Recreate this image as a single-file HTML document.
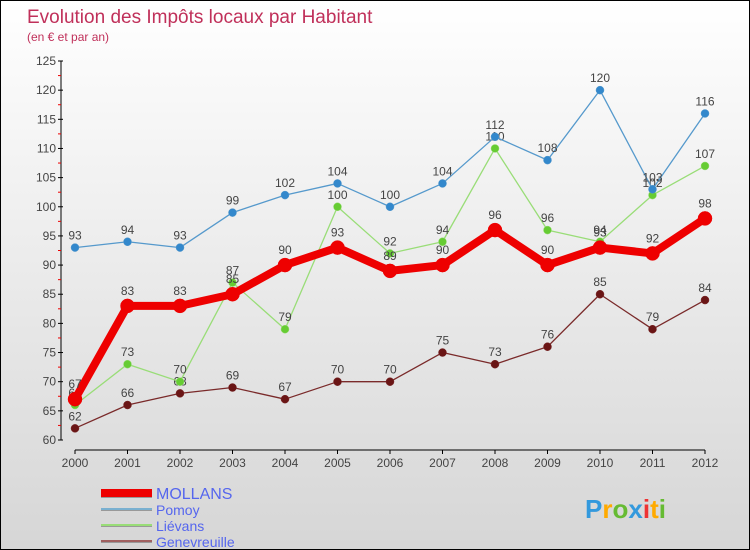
<!DOCTYPE html>
<html><head><meta charset="utf-8"><style>
html,body{margin:0;padding:0}
body{width:750px;height:550px;overflow:hidden;font-family:"Liberation Sans",sans-serif}
#wrap{position:relative;width:748px;height:548px;border:1px solid #000;background:linear-gradient(#ffffff,#d6d6d6)}
</style></head><body>
<div id="wrap">
<svg id="chart" width="748" height="548" style="position:absolute;left:0;top:0"></svg>
</div>
<script>
const years=[2000,2001,2002,2003,2004,2005,2006,2007,2008,2009,2010,2011,2012];
const mollans=[67,83,83,85,90,93,89,90,96,90,93,92,98];
const pomoy=[93,94,93,99,102,104,100,104,112,108,120,103,116];
const lievans=[66,73,70,87,79,100,92,94,110,96,94,102,107];
const genevreuille=[62,66,68,69,67,70,70,75,73,76,85,79,84];
const yTicks=[60,65,70,75,80,85,90,95,100,105,110,115,120,125];

const svg=document.getElementById('chart');
const NS='http://www.w3.org/2000/svg';
function X(i){return 74+i*(630/(years.length-1));}
function Y(v){return 439-(v-60)*(379/65);}
function mk(tag,attrs,parent){const e=document.createElementNS(NS,tag);for(const k in attrs)e.setAttribute(k,attrs[k]);(parent||svg).appendChild(e);return e;}

// title
let t=mk('text',{x:26,y:22,fill:'#c0305a','font-size':19});t.textContent='Evolution des Impôts locaux par Habitant';


t=mk('text',{x:26,y:40,fill:'#c0305a','font-size':12});t.textContent='(en € et par an)';



// y axis
let ax=mk('line',{x1:60,y1:Y(125),x2:60,y2:Y(60),stroke:'#000','stroke-width':1});


yTicks.forEach((v,i)=>{
  mk('line',{x1:57,y1:Y(v),x2:62,y2:Y(v),stroke:'#000'});
  if(i<yTicks.length-1){mk('line',{x1:57,y1:Y(v+2.5),x2:60,y2:Y(v+2.5),stroke:'#e00'});}
  const l=mk('text',{x:55,y:Y(v)+4,'text-anchor':'end','font-size':12,fill:'#444'});l.textContent=v;
  
  
});
// x axis
ax=mk('line',{x1:X(0),y1:449,x2:X(12),y2:449,stroke:'#000'});


years.forEach((yr,i)=>{
  mk('line',{x1:X(i),y1:449,x2:X(i),y2:453,stroke:'#000'});
  const l=mk('text',{x:X(i),y:466,'text-anchor':'middle','font-size':12,fill:'#444'});l.textContent=yr;
  
  
});

function series(vals,color,dot,w,r,name){
  const g=mk('g',{});
  
  
  mk('polyline',{points:vals.map((v,i)=>X(i)+','+Y(v)).join(' '),fill:'none',stroke:color,'stroke-width':w,'stroke-linejoin':'round'},g);
  vals.forEach((v,i)=>{
    const c=mk('circle',{cx:X(i),cy:Y(v),r:r,fill:dot,stroke:color,'stroke-width':0.5},g);
    
    
    const l=mk('text',{x:X(i),y:Y(v)-8-(r>5?3:0),'text-anchor':'middle','font-size':12,fill:'#444'},g);l.textContent=v;
    
    
  });
}
series(genevreuille,'#7a2a2a','#6a1515',1.3,4,'genevreuille');
series(lievans,'#99dd77','#66cc33',1.3,4,'lievans');
series(pomoy,'#5599cc','#3388cc',1.3,4,'pomoy');
series(mollans,'#ee0000','#ee0000',8,7,'mollans');

// legend
const leg=[['MOLLANS','#ee0000',8,16],['Pomoy','#7ab0d0',2,14],['Liévans','#99dd77',2,14],['Genevreuille','#a06060',2,14]];
leg.forEach((e,i)=>{
  const y=492+i*16;
  const g=mk('g',{});
  
  
  mk('line',{x1:100,y1:y+1,x2:151,y2:y+1,stroke:'#999','stroke-width':e[2]},g);
  mk('line',{x1:100,y1:y,x2:151,y2:y,stroke:e[1],'stroke-width':e[2]},g);
  const l=mk('text',{x:155,y:y+6,'font-size':e[3],fill:'#5566ee'},g);l.textContent=e[0];
});

// logo
const lg=mk('text',{x:584,y:517,'font-size':26,'font-weight':'bold'});


[['P','#3399dd'],['r','#ffaa00'],['o','#66bb33'],['x','#3399dd'],['i','#ee3333'],['t','#ffaa00'],['i','#66bb33']].forEach(c=>{
  const s=mk('tspan',{fill:c[1]},lg);s.textContent=c[0];
});
</script>
</body></html>
